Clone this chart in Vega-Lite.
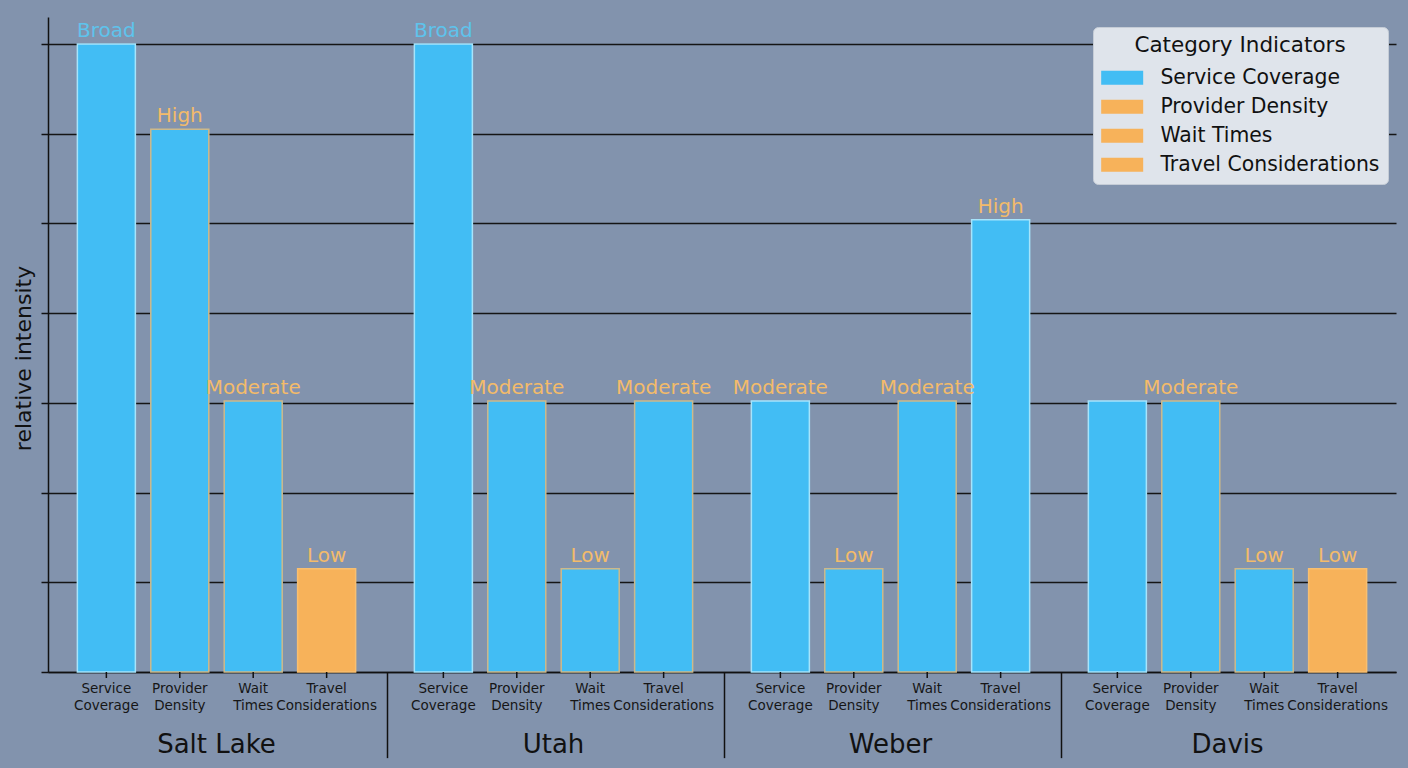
{
  "$schema": "https://vega.github.io/schema/vega-lite/v6.json",
  "width": 1348,
  "height": 655,
  "autosize": {"type": "none"},
  "padding": {"left": 48, "top": 17, "right": 12, "bottom": 96},
  "background": "#8293ad",
  "config": {
    "font": "DejaVu Sans",
    "view": {"stroke": null}
  },
  "data": {
    "values": [
      {"county": "Salt Lake", "category": "Service Coverage", "catLabel": "Service\nCoverage", "value": 7, "label": "Broad", "labelColor": "#5ec3ec", "fill": "#42bdf4", "stroke": "#a6e4fb"},
      {"county": "Salt Lake", "category": "Provider Density", "catLabel": "Provider\nDensity", "value": 6.05, "label": "High", "labelColor": "#f3bb6a", "fill": "#42bdf4", "stroke": "#cdb98a"},
      {"county": "Salt Lake", "category": "Wait Times", "catLabel": "Wait\nTimes", "value": 3.02, "label": "Moderate", "labelColor": "#f3bb6a", "fill": "#42bdf4", "stroke": "#cdb98a"},
      {"county": "Salt Lake", "category": "Travel Considerations", "catLabel": "Travel\nConsiderations", "value": 1.15, "label": "Low", "labelColor": "#f3bb6a", "fill": "#f7b25a", "stroke": "#f8bf70"},
      {"county": "Utah", "category": "Service Coverage", "catLabel": "Service\nCoverage", "value": 7, "label": "Broad", "labelColor": "#5ec3ec", "fill": "#42bdf4", "stroke": "#a6e4fb"},
      {"county": "Utah", "category": "Provider Density", "catLabel": "Provider\nDensity", "value": 3.02, "label": "Moderate", "labelColor": "#f3bb6a", "fill": "#42bdf4", "stroke": "#cdb98a"},
      {"county": "Utah", "category": "Wait Times", "catLabel": "Wait\nTimes", "value": 1.15, "label": "Low", "labelColor": "#f3bb6a", "fill": "#42bdf4", "stroke": "#cdb98a"},
      {"county": "Utah", "category": "Travel Considerations", "catLabel": "Travel\nConsiderations", "value": 3.02, "label": "Moderate", "labelColor": "#f3bb6a", "fill": "#42bdf4", "stroke": "#cdb98a"},
      {"county": "Weber", "category": "Service Coverage", "catLabel": "Service\nCoverage", "value": 3.02, "label": "Moderate", "labelColor": "#f3bb6a", "fill": "#42bdf4", "stroke": "#a6e4fb"},
      {"county": "Weber", "category": "Provider Density", "catLabel": "Provider\nDensity", "value": 1.15, "label": "Low", "labelColor": "#f3bb6a", "fill": "#42bdf4", "stroke": "#cdb98a"},
      {"county": "Weber", "category": "Wait Times", "catLabel": "Wait\nTimes", "value": 3.02, "label": "Moderate", "labelColor": "#f3bb6a", "fill": "#42bdf4", "stroke": "#cdb98a"},
      {"county": "Weber", "category": "Travel Considerations", "catLabel": "Travel\nConsiderations", "value": 5.04, "label": "High", "labelColor": "#f3bb6a", "fill": "#42bdf4", "stroke": "#a6e4fb"},
      {"county": "Davis", "category": "Service Coverage", "catLabel": "Service\nCoverage", "value": 3.02, "label": "", "labelColor": "#f3bb6a", "fill": "#42bdf4", "stroke": "#a6e4fb"},
      {"county": "Davis", "category": "Provider Density", "catLabel": "Provider\nDensity", "value": 3.02, "label": "Moderate", "labelColor": "#f3bb6a", "fill": "#42bdf4", "stroke": "#cdb98a"},
      {"county": "Davis", "category": "Wait Times", "catLabel": "Wait\nTimes", "value": 1.15, "label": "Low", "labelColor": "#f3bb6a", "fill": "#42bdf4", "stroke": "#cdb98a"},
      {"county": "Davis", "category": "Travel Considerations", "catLabel": "Travel\nConsiderations", "value": 1.15, "label": "Low", "labelColor": "#f3bb6a", "fill": "#f7b25a", "stroke": "#f8bf70"}
    ]
  },
  "encoding": {
    "x": {
      "field": "county",
      "type": "nominal",
      "scale": {"domain": ["Salt Lake", "Utah", "Weber", "Davis"], "paddingInner": 0, "paddingOuter": 0},
      "axis": {
        "title": null,
        "labelAngle": 0,
        "labelFontSize": 26,
        "labelColor": "#111111",
        "labelBaseline": "alphabetic",
        "labelPadding": 80,
        "ticks": false,
        "tickSize": 0,
        "domainColor": "#111111",
        "domainWidth": 1.5,
        "grid": false
      }
    },
    "xOffset": {
      "field": "category",
      "type": "nominal",
      "scale": {"domain": ["Service Coverage", "Provider Density", "Wait Times", "Travel Considerations"], "paddingInner": 0.21, "paddingOuter": 0.4}
    }
  },
  "layer": [
    {
      "mark": {"type": "bar"},
      "encoding": {
        "y": {
          "field": "value",
          "type": "quantitative",
          "scale": {"domain": [0, 7.3], "nice": false},
          "axis": {
            "title": "relative intensity",
            "titleFontSize": 22,
            "titleFontWeight": "normal",
            "titleColor": "#111111",
            "titleX": -25,
            "titleY": 341,
            "titleAngle": 270,
            "titleAlign": "center",
            "titleBaseline": "middle",
            "values": [0, 1, 2, 3, 4, 5, 6, 7],
            "labels": false,
            "tickSize": 7,
            "tickColor": "#111111",
            "tickWidth": 1.5,
            "domainColor": "#111111",
            "domainWidth": 1.5,
            "grid": true,
            "gridColor": "#151515",
            "gridWidth": 1.3
          }
        },
        "color": {
          "field": "category",
          "type": "nominal",
          "scale": {
            "domain": ["Service Coverage", "Provider Density", "Wait Times", "Travel Considerations"],
            "range": ["#42bdf4", "#f7b25a", "#f7b25a", "#f7b25a"]
          },
          "legend": {
            "title": "Category Indicators",
            "orient": "none",
            "legendX": 1045,
            "legendY": 10,
            "titleFontSize": 21.5,
            "titleFontWeight": "normal",
            "titleColor": "#111111",
            "titleAnchor": "middle",
            "titlePadding": 11,
            "titleLimit": 0,
            "labelFontSize": 20.4,
            "labelColor": "#111111",
            "labelLimit": 0,
            "labelOffset": 39,
            "symbolType": "M-1.43,-1H4.57V1H-1.43Z",
            "symbolSize": 196,
            "symbolStrokeWidth": 0,
            "rowPadding": 8,
            "padding": 8,
            "fillColor": "#dfe4eb",
            "strokeColor": "#c5ccd6",
            "cornerRadius": 5
          }
        }
      }
    },
    {
      "mark": {"type": "bar", "strokeWidth": 1.5},
      "encoding": {
        "y": {"field": "value", "type": "quantitative"},
        "fill": {"field": "fill", "type": "nominal", "scale": null, "legend": null},
        "stroke": {"field": "stroke", "type": "nominal", "scale": null, "legend": null}
      }
    },
    {
      "mark": {"type": "text", "fontSize": 20, "baseline": "alphabetic", "dy": -7},
      "encoding": {
        "y": {"field": "value", "type": "quantitative"},
        "text": {"field": "label"},
        "color": {"field": "labelColor", "type": "nominal", "scale": null, "legend": null}
      }
    },
    {
      "mark": {"type": "rule", "color": "#111111", "strokeWidth": 1.5},
      "encoding": {
        "y": {"datum": 0},
        "y2": {"datum": -0.067}
      }
    },
    {
      "mark": {"type": "text", "fontSize": 13.5, "baseline": "top", "dy": 10, "lineBreak": "\n", "lineHeight": 16.5, "color": "#161616"},
      "encoding": {
        "y": {"datum": 0},
        "text": {"field": "catLabel"}
      }
    },
    {
      "data": {"values": [{"county": "Utah"}, {"county": "Weber"}, {"county": "Davis"}]},
      "mark": {"type": "rule", "color": "#111111", "strokeWidth": 1.5, "xOffset": 2.5},
      "encoding": {
        "x": {"field": "county", "type": "nominal", "bandPosition": 0},
        "xOffset": null,
        "y": {"datum": 0},
        "y2": {"datum": -0.96}
      }
    }
  ]
}
